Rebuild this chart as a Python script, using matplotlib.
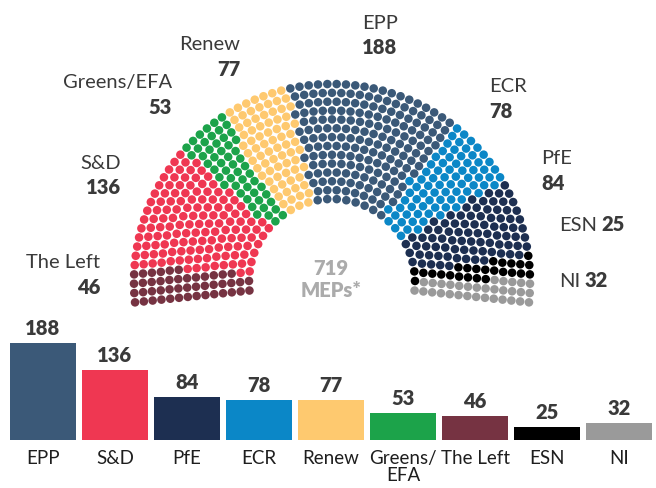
import numpy as np
import matplotlib
matplotlib.use("Agg")
import matplotlib.pyplot as plt

plt.rcParams['font.family'] = ['DejaVu Sans Condensed', 'Lato', 'DejaVu Sans']

# ---------------- data ----------------
hemi_parties = ['The Left', 'S&D', 'Greens/EFA', 'Renew', 'EPP', 'ECR', 'PfE', 'ESN', 'NI']
hemi_seats = [46, 136, 53, 77, 188, 78, 84, 25, 32]
party_colors = {
    'EPP': '#3b5978', 'S&D': '#ef3752', 'PfE': '#1d2f51', 'ECR': '#0b87c7',
    'Renew': '#fec96f', 'Greens/EFA': '#1ca34a', 'The Left': '#763342',
    'ESN': '#000000', 'NI': '#9a9a9a',
}
bar_parties = ['EPP', 'S&D', 'PfE', 'ECR', 'Renew', 'Greens/EFA', 'The Left', 'ESN', 'NI']
bar_tick_labels = ['EPP', 'S&D', 'PfE', 'ECR', 'Renew', 'Greens/\nEFA', 'The Left', 'ESN', 'NI']
total_label = ['719', 'MEPs*']

seat_of = dict(zip(hemi_parties, hemi_seats))
bar_values = [seat_of[p] for p in bar_parties]

TXT = '#3a3a3a'
FS = 14.5
NUMW = 'heavy'

fig = plt.figure(figsize=(6.56, 4.88), dpi=100)
ax = fig.add_axes([0, 0, 1, 1])
ax.set_xlim(0, 656)
ax.set_ylim(488, 0)
ax.axis('off')

# ---------------- hemicycle layout ----------------
CX, CY = 332, 282
R_IN, R_OUT, NROWS = 83, 198, 14
EXTRA = np.deg2rad(5.9)
total = sum(hemi_seats)
radii = np.linspace(R_IN, R_OUT, NROWS)
raw = radii / radii.sum() * total
counts = np.floor(raw).astype(int)
rem = total - counts.sum()
counts[np.argsort(-(raw - counts))[:rem]] += 1

angs, rads = [], []
for r, n in zip(radii, counts):
    a = np.linspace(np.pi + EXTRA, -EXTRA, n)
    angs.extend(a)
    rads.extend([r] * n)
angs = np.array(angs)
rads = np.array(rads)
order = np.lexsort((rads, -np.round(angs, 9)))
angs, rads = angs[order], rads[order]
xs = CX + rads * np.cos(angs)
ys = CY - rads * np.sin(angs)
seat_colors = np.repeat([party_colors[p] for p in hemi_parties], hemi_seats)
ax.scatter(xs, ys, s=38, c=seat_colors, linewidths=0)

# ---------------- hemicycle labels ----------------
def two_line(name, value, x, y, ha):
    ax.text(x, y, name, ha=ha, va='baseline', fontsize=FS, color=TXT)
    ax.text(x, y + 25.5, str(value), ha=ha, va='baseline', fontsize=FS,
            color=TXT, fontweight=NUMW)

two_line('EPP', seat_of['EPP'], 362, 29, 'left')
two_line('Renew', seat_of['Renew'], 240, 50, 'right')
two_line('Greens/EFA', seat_of['Greens/EFA'], 172, 88, 'right')
two_line('S&D', seat_of['S&D'], 121, 169, 'right')
two_line('The Left', seat_of['The Left'], 100, 268, 'right')
two_line('ECR', seat_of['ECR'], 489, 92, 'left')
two_line('PfE', seat_of['PfE'], 541, 164, 'left')

for name, y in [('ESN', 231), ('NI', 287)]:
    t = ax.text(559, y, name, ha='left', va='baseline', fontsize=FS, color=TXT)
    ax.annotate(str(seat_of[name]), xy=(1, 0), xycoords=t, xytext=(3, 0),
                textcoords='offset points', ha='left', va='bottom',
                fontsize=FS, color=TXT, fontweight=NUMW)

ax.text(331, 275, total_label[0], ha='center', va='baseline', fontsize=FS,
        color='#ababab', fontweight=NUMW)
ax.text(331, 297, total_label[1], ha='center', va='baseline', fontsize=FS,
        color='#ababab', fontweight=NUMW)

# ---------------- bar chart ----------------
PX_PER_SEAT = 0.517
ax2 = fig.add_axes([10 / 656, 48 / 488, 642 / 656, 110 / 488])
ax2.patch.set_alpha(0)
xpos = np.arange(len(bar_parties))
ax2.bar(xpos, bar_values, width=0.915,
        color=[party_colors[p] for p in bar_parties])
ax2.set_xlim(-0.4575, len(bar_parties) - 1 + 0.4575)
ax2.set_ylim(0, 110 / PX_PER_SEAT)
ax2.axis('off')
for x, v, lab in zip(xpos, bar_values, bar_tick_labels):
    ax2.annotate(str(v), xy=(x, v), xytext=(0, 5.8), textcoords='offset points',
                 ha='center', va='baseline', fontsize=FS, color=TXT,
                 fontweight=NUMW)
    ax2.annotate(lab, xy=(x, 0), xytext=(0, -7.5), textcoords='offset points',
                 ha='center', va='top', fontsize=13.5, color='#1e1e1e',
                 linespacing=1.0)

fig.savefig('out.png', dpi=100)
